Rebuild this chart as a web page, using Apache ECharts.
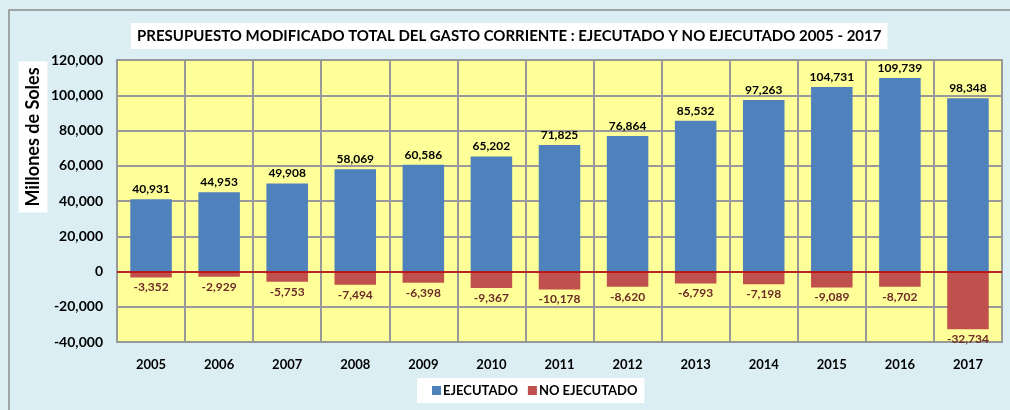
<!DOCTYPE html>
<html>
<head>
<meta charset="utf-8">
<title>Gasto corriente</title>
<script src="https://cdn.jsdelivr.net/npm/echarts@6/dist/echarts.min.js"></script>
<style>
    html, body { margin: 0; padding: 0; background: #DAEEF3; }
    #chart { width: 1010px; height: 410px; }
</style>
</head>
<body>
<div id="chart"></div>
<script>
var years = ['2005', '2006', '2007', '2008', '2009', '2010', '2011', '2012', '2013', '2014', '2015', '2016', '2017'];
var ejecutado = [40931, 44953, 49908, 58069, 60586, 65202, 71825, 76864, 85532, 97263, 104731, 109739, 98348];
var noEjecutado = [-3352, -2929, -5753, -7494, -6398, -9367, -10178, -8620, -6793, -7198, -9089, -8702, -32734];
var yTicks = { min: -40000, max: 120000, interval: 20000 };

var font = 'Lato';

function fmt(v) {
    return echarts.format.addCommas(v);
}

var chart = echarts.init(document.getElementById('chart'));

chart.setOption({
    backgroundColor: '#DAEEF3',
    textStyle: { fontFamily: font },
    graphic: [{
        type: 'rect',
        shape: { x: 9, y: 10, width: 1100, height: 500 },
        style: { fill: 'none', stroke: '#8c8c8c', lineWidth: 1.5 },
        silent: true,
        z: -1
    }, {
        // etiqueta del eje Y
        type: 'text',
        x: 33,
        y: 137,
        rotation: Math.PI / 2,
        silent: true,
        style: {
            text: 'Millones de Soles',
            fontFamily: font,
            fontSize: 18,
            fontWeight: 'bold',
            fill: '#000',
            align: 'center',
            verticalAlign: 'middle',
            backgroundColor: '#fff',
            padding: [6, 6, 5, 6]
        }
    }],
    title: {
        text: 'PRESUPUESTO MODIFICADO TOTAL DEL GASTO CORRIENTE : EJECUTADO Y NO EJECUTADO 2005 - 2017',
        left: 131,
        top: 23,
        backgroundColor: '#fff',
        padding: [6, 6, 5, 6],
        textStyle: { fontFamily: font, fontSize: 15, fontWeight: 'bold', color: '#000' }
    },
    legend: {
        bottom: 7,
        left: 417,
        backgroundColor: '#fff',
        padding: [6, 7, 6, 15],
        itemWidth: 9,
        itemHeight: 9,
        itemGap: 10,
        icon: 'rect',
        textStyle: { fontFamily: font, fontSize: 13, fontWeight: 'bold', color: '#000', padding: [0, 0, 0, -3] },
        data: ['EJECUTADO', 'NO EJECUTADO']
    },
    grid: {
        left: 117,
        right: 8,
        top: 60,
        bottom: 68,
        containLabel: false,
        outerBoundsMode: 'none',
        show: true,
        backgroundColor: '#FFFF99',
        borderColor: '#999',
        borderWidth: 2
    },
    xAxis: {
        type: 'category',
        data: years,
        position: 'bottom',
        axisLine: { show: false },
        axisTick: { show: false },
        splitLine: { show: true, lineStyle: { color: '#999', width: 2 } },
        axisLabel: { fontFamily: font, fontSize: 13, fontWeight: 'bold', color: '#000', margin: 16 }
    },
    yAxis: {
        type: 'value',
        min: yTicks.min,
        max: yTicks.max,
        interval: yTicks.interval,
        axisLine: { show: false },
        axisTick: { show: false },
        splitLine: { show: true, lineStyle: { color: '#999', width: 2 } },
        axisLabel: {
            fontFamily: font, fontSize: 14, fontWeight: 'bold', color: '#000', margin: 14,
            formatter: function (v) { return fmt(v); }
        }
    },
    series: [{
        name: 'EJECUTADO',
        type: 'bar',
        stack: 'total',
        barWidth: '61%',
        data: ejecutado,
        itemStyle: { color: '#4F81BD' },
        label: {
            show: true,
            position: 'top',
            distance: 4,
            fontFamily: font, fontSize: 12, fontWeight: 'bold', color: '#000',
            formatter: function (p) { return fmt(p.value); }
        },
        markLine: {
            silent: true,
            symbol: 'none',
            label: { show: false },
            lineStyle: { color: '#C00000', width: 1.5, type: 'solid' },
            data: [{ yAxis: 0 }]
        }
    }, {
        name: 'NO EJECUTADO',
        type: 'bar',
        stack: 'total',
        data: noEjecutado,
        itemStyle: { color: '#C0504D' },
        label: {
            show: true,
            position: 'bottom',
            distance: 4,
            fontFamily: font, fontSize: 12, fontWeight: 'bold', color: '#6b2b28',
            formatter: function (p) { return fmt(p.value); }
        }
    }]
});
</script>
</body>
</html>
